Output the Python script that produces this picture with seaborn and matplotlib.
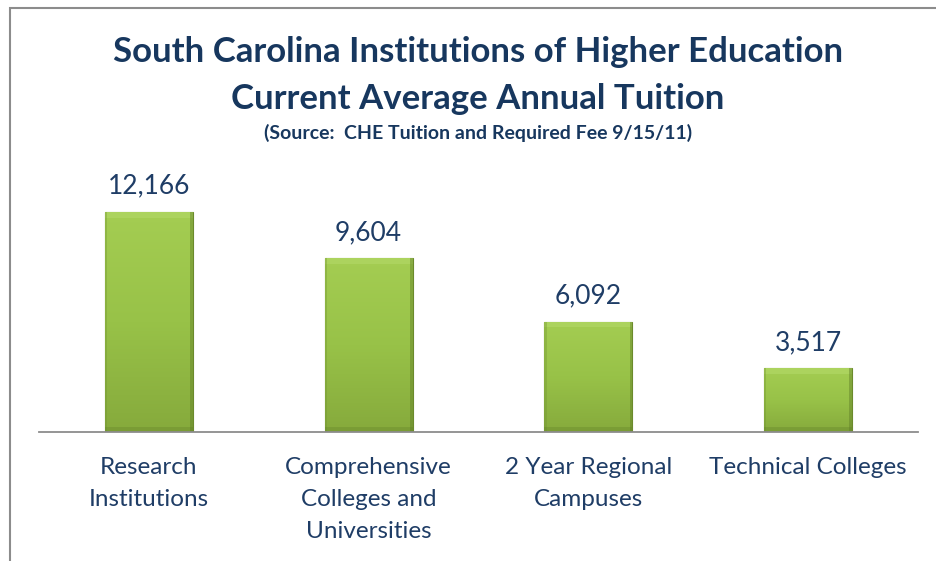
import numpy as np
import pandas as pd
import matplotlib
matplotlib.use('Agg')
import matplotlib.pyplot as plt
import seaborn as sns
from matplotlib.patches import Rectangle
from matplotlib.colors import LinearSegmentedColormap

# data
categories = ['Research\nInstitutions', 'Comprehensive\nColleges and\nUniversities',
              '2 Year Regional\nCampuses', 'Technical Colleges']
tuition = [12166, 9604, 6092, 3517]

df = pd.DataFrame({'category': categories, 'tuition': tuition})

sns.set_style('white')
plt.rcParams['font.family'] = ['Lato', 'DejaVu Sans']

navy = '#17375E'
label_col = '#1F3D66'

fig = plt.figure(figsize=(9.37, 5.61), dpi=100)
ax = fig.add_axes([39/937, 1 - 432/561, 879/937, 253/561])

sns.barplot(data=df, x='category', y='tuition', color='#92bd45', width=0.4,
            saturation=1, ax=ax)

# gradient fill + bevel-ish look on each bar
cmap = LinearSegmentedColormap.from_list('g', ['#86aa3c', '#98c248', '#a4cd52'])
grad = np.linspace(0, 1, 256).reshape(-1, 1)
for p in ax.patches:
    x0, w, h = p.get_x(), p.get_width(), p.get_height()
    p.set_edgecolor('#6b8a2c')
    p.set_linewidth(0.8)
    im = ax.imshow(grad, cmap=cmap, aspect='auto', origin='lower',
                   extent=[x0, x0 + w, 0, h], zorder=p.get_zorder() + 0.1)
    im.set_clip_path(p)
    # light top bevel and darker sides
    ax.add_patch(Rectangle((x0, h - 300), w, 300, color='#b5da6a', alpha=0.55,
                           lw=0, zorder=p.get_zorder() + 0.2))
    ax.add_patch(Rectangle((x0 + w - 0.012, 0), 0.012, h, color='#5f7d27', alpha=0.45,
                           lw=0, zorder=p.get_zorder() + 0.2))
    ax.add_patch(Rectangle((x0, 0), 0.01, h, color='#6f9130', alpha=0.35,
                           lw=0, zorder=p.get_zorder() + 0.2))
    ax.add_patch(Rectangle((x0, 0), w, 250, color='#5f7d27', alpha=0.3,
                           lw=0, zorder=p.get_zorder() + 0.2))

for i, v in enumerate(tuition):
    ax.text(i, v + 750, f'{v:,}', ha='center', va='bottom', fontsize=19,
            color=label_col)

ax.set_xlim(-0.5, 3.5)
ax.set_ylim(0, 14000)
ax.set_xlabel('')
ax.set_ylabel('')
ax.set_yticks([])
for s in ['top', 'right', 'left']:
    ax.spines[s].set_visible(False)
ax.spines['bottom'].set_color('#8c8c8c')
ax.spines['bottom'].set_linewidth(1.3)
ax.tick_params(axis='x', length=0, pad=18, labelsize=17.5, labelcolor=label_col)
for t in ax.get_xticklabels():
    t.set_linespacing(1.65)
    t.set_va('top')

fig.text(478/937, 1 - 52/561, 'South Carolina Institutions of Higher Education',
         ha='center', va='center', fontsize=25, fontweight='bold', color=navy)
fig.text(478/937, 1 - 99/561, 'Current Average Annual Tuition',
         ha='center', va='center', fontsize=25, fontweight='bold', color=navy)
fig.text(478/937, 1 - 133/561, '(Source:  CHE Tuition and Required Fee 9/15/11)',
         ha='center', va='center', fontsize=14, fontweight='bold', color=navy)

# chart frame (left and top edges visible)
fig.add_artist(Rectangle((10/937, -0.1), 1.0, 1 - 8/561 + 0.1, transform=fig.transFigure,
                         fill=False, edgecolor='#8c8c8c', lw=1.5))

fig.savefig('out.png', dpi=100)
